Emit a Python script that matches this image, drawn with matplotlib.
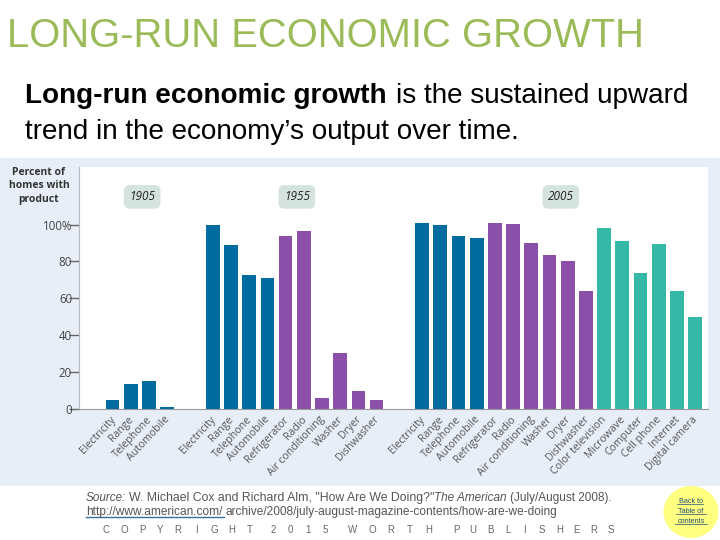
#!/usr/bin/env python3
"""Long-run economic growth slide: percent of homes with product, 1905/1955/2005."""
import matplotlib
matplotlib.use('Agg')
import matplotlib.pyplot as plt
from matplotlib.patches import Ellipse, Rectangle
from matplotlib.transforms import ScaledTranslation

W, H = 720, 540
BLUE = '#006B9F'
PURPLE = '#8A4FA8'
TEAL = '#35B8A6'
LABEL_FONT = 'Open Sans'
SLIDE_FONT = 'Liberation Sans'

years = ['1905', '1955', '2005']
products_1905 = ['Electricity', 'Range', 'Telephone', 'Automobile']
values_1905 = [4.5, 13.2, 15.0, 1.0]
colors_1905 = [BLUE] * 4
products_1955 = ['Electricity', 'Range', 'Telephone', 'Automobile', 'Refrigerator',
                 'Radio', 'Air conditioning', 'Washer', 'Dryer', 'Dishwasher']
values_1955 = [99.5, 88.6, 72.5, 70.8, 93.7, 96.4, 5.6, 30.4, 9.4, 4.5]
colors_1955 = [BLUE] * 4 + [PURPLE] * 6
products_2005 = ['Electricity', 'Range', 'Telephone', 'Automobile', 'Refrigerator',
                 'Radio', 'Air conditioning', 'Washer', 'Dryer', 'Dishwasher',
                 'Color television', 'Microwave', 'Computer', 'Cell phone',
                 'Internet', 'Digital camera']
values_2005 = [100.7, 99.8, 93.7, 92.6, 100.7, 100.2, 90.2, 83.3, 80.4, 63.8,
               98.2, 90.9, 73.7, 89.3, 64.1, 50.0]
colors_2005 = [BLUE] * 4 + [PURPLE] * 6 + [TEAL] * 6
y_ticks = [0, 20, 40, 60, 80, 100]
y_tick_labels = ['0', '20', '40', '60', '80', '100%']

groups = [(products_1905, values_1905, colors_1905),
          (products_1955, values_1955, colors_1955),
          (products_2005, values_2005, colors_2005)]


def px(x, y):
    return x / W, 1 - y / H


def main():
    fig = plt.figure(figsize=(W / 100, H / 100), dpi=100, facecolor='white')

    # slide background panel behind the chart
    fig.add_artist(Rectangle(px(0, 486), 1, 328 / H, transform=fig.transFigure,
                             fc='#E8EEF8', ec='none', zorder=-5))

    # slide title and lead text
    fig.text(*px(7, 47), 'LONG-RUN ECONOMIC GROWTH', fontsize=28.8, color='#9BBB59',
             family=SLIDE_FONT, va='baseline')
    fig.text(*px(25, 103), 'Long-run economic growth', fontsize=20.05, fontweight='bold',
             color='black', family=SLIDE_FONT, va='baseline')
    fig.text(*px(396, 103), 'is the sustained upward', fontsize=20.05, color='black',
             family=SLIDE_FONT, va='baseline')
    fig.text(*px(25, 139), 'trend in the economy\u2019s output over time.', fontsize=20.05,
             color='black', family=SLIDE_FONT, va='baseline')

    # chart area
    left, right, top, bottom = 79, 707.5, 167, 408.5
    ax = fig.add_axes([left / W, 1 - bottom / H, (right - left) / W, (bottom - top) / H])
    ax.set_facecolor('white')

    xs, names = [], []
    start = 0
    for year, (products, values, colors) in zip(years, groups):
        pos = [start + i for i in range(len(products))]
        ax.bar(pos, values, width=0.75, color=colors, linewidth=0)
        xs += pos
        names += products
        # year tag above the group
        ax.text(sum(pos) / len(pos) + 0.12, 115, year, style='italic', fontsize=8.5,
                color='#222222', family=LABEL_FONT, ha='center', va='center',
                bbox=dict(boxstyle='round,pad=0.45,rounding_size=0.5', fc='#D5E3DF', ec='none'))
        start = pos[-1] + 2.5

    ax.set_xlim(-1.85, 32.68)
    ax.set_ylim(0, (bottom - top) / 1.84)
    ax.set_yticks(y_ticks)
    ax.set_yticklabels(y_tick_labels, fontsize=8.3, color='#444444', family=LABEL_FONT)
    ax.tick_params(axis='y', length=7.2, width=1, color='#666666', pad=-2.2)
    ax.set_xticks(xs)
    ax.set_xticklabels(names, rotation=47, ha='right', va='top', rotation_mode='anchor',
                       fontsize=7.6, color='#555555', family=LABEL_FONT)
    ax.tick_params(axis='x', length=0, pad=4)
    # labels sit slightly left of their bars
    nudge = ScaledTranslation(-3 / 100, 0, fig.dpi_scale_trans)
    for label in ax.get_xticklabels():
        label.set_transform(label.get_transform() + nudge)
    for side in ['top', 'right']:
        ax.spines[side].set_visible(False)
    ax.spines['left'].set_color('#BBBBBB')
    ax.spines['bottom'].set_color('#999999')

    fig.text(*px(39, 186), 'Percent of\nhomes with\nproduct', fontsize=7.5, fontweight='bold',
             color='#333333', family=LABEL_FONT, ha='center', va='center', linespacing=1.3)

    # source lines
    fig.text(*px(86, 501), 'Source:', fontsize=8.5, style='italic', color='#555555',
             family=SLIDE_FONT, va='baseline')
    fig.text(*px(129, 501), 'W. Michael Cox and Richard Alm, "How Are We Doing?"',
             fontsize=8.8, color='#555555', family=SLIDE_FONT, va='baseline')
    fig.text(*px(434, 501), 'The American', fontsize=8.5, style='italic', color='#555555',
             family=SLIDE_FONT, va='baseline')
    fig.text(*px(510, 501), '(July/August 2008).', fontsize=8.5, color='#555555',
             family=SLIDE_FONT, va='baseline')
    fig.text(*px(86, 515), 'http://www.american.com/', fontsize=8.6, color='#555555',
             family=SLIDE_FONT, va='baseline')
    fig.add_artist(plt.Line2D([86 / W, 224 / W], [1 - 517 / H] * 2, color='#3A6E9E', lw=1))
    fig.text(*px(226, 515), 'archive/2008/july-august-magazine-contents/how-are-we-doing',
             fontsize=8.6, color='#555555', family=SLIDE_FONT, va='baseline')

    # widely spaced footer, one letter at a time
    for word, x0, x1 in [('COPYRIGHT', 106, 250), ('2015', 273, 325),
                         ('WORTH', 353, 429), ('PUBLISHERS', 456, 611)]:
        step = (x1 - x0) / (len(word) - 1)
        for i, ch in enumerate(word):
            fig.text(*px(x0 + i * step, 533), ch, fontsize=7, color='#666666',
                     family=SLIDE_FONT, ha='center', va='baseline')

    # back-to-contents badge
    fig.add_artist(Ellipse(px(691, 512), 55 / W, 52 / H, transform=fig.transFigure,
                           fc='#FFFF80', ec='none', zorder=1))
    for (line, y, x0, x1) in [('Back to', 503, 677, 703),
                              ('Table of', 513, 676, 706),
                              ('contents', 523, 675, 707)]:
        fig.text(*px(691, y), line, fontsize=5.2, color='#1F4E79', family=SLIDE_FONT,
                 ha='center', va='baseline', zorder=2)
        fig.add_artist(plt.Line2D([x0 / W, x1 / W], [1 - (y + 1) / H] * 2, color='#1F4E79',
                                  lw=0.5, zorder=2))

    fig.savefig('out.png', dpi=100, facecolor='white')
    plt.close(fig)


if __name__ == '__main__':
    main()
